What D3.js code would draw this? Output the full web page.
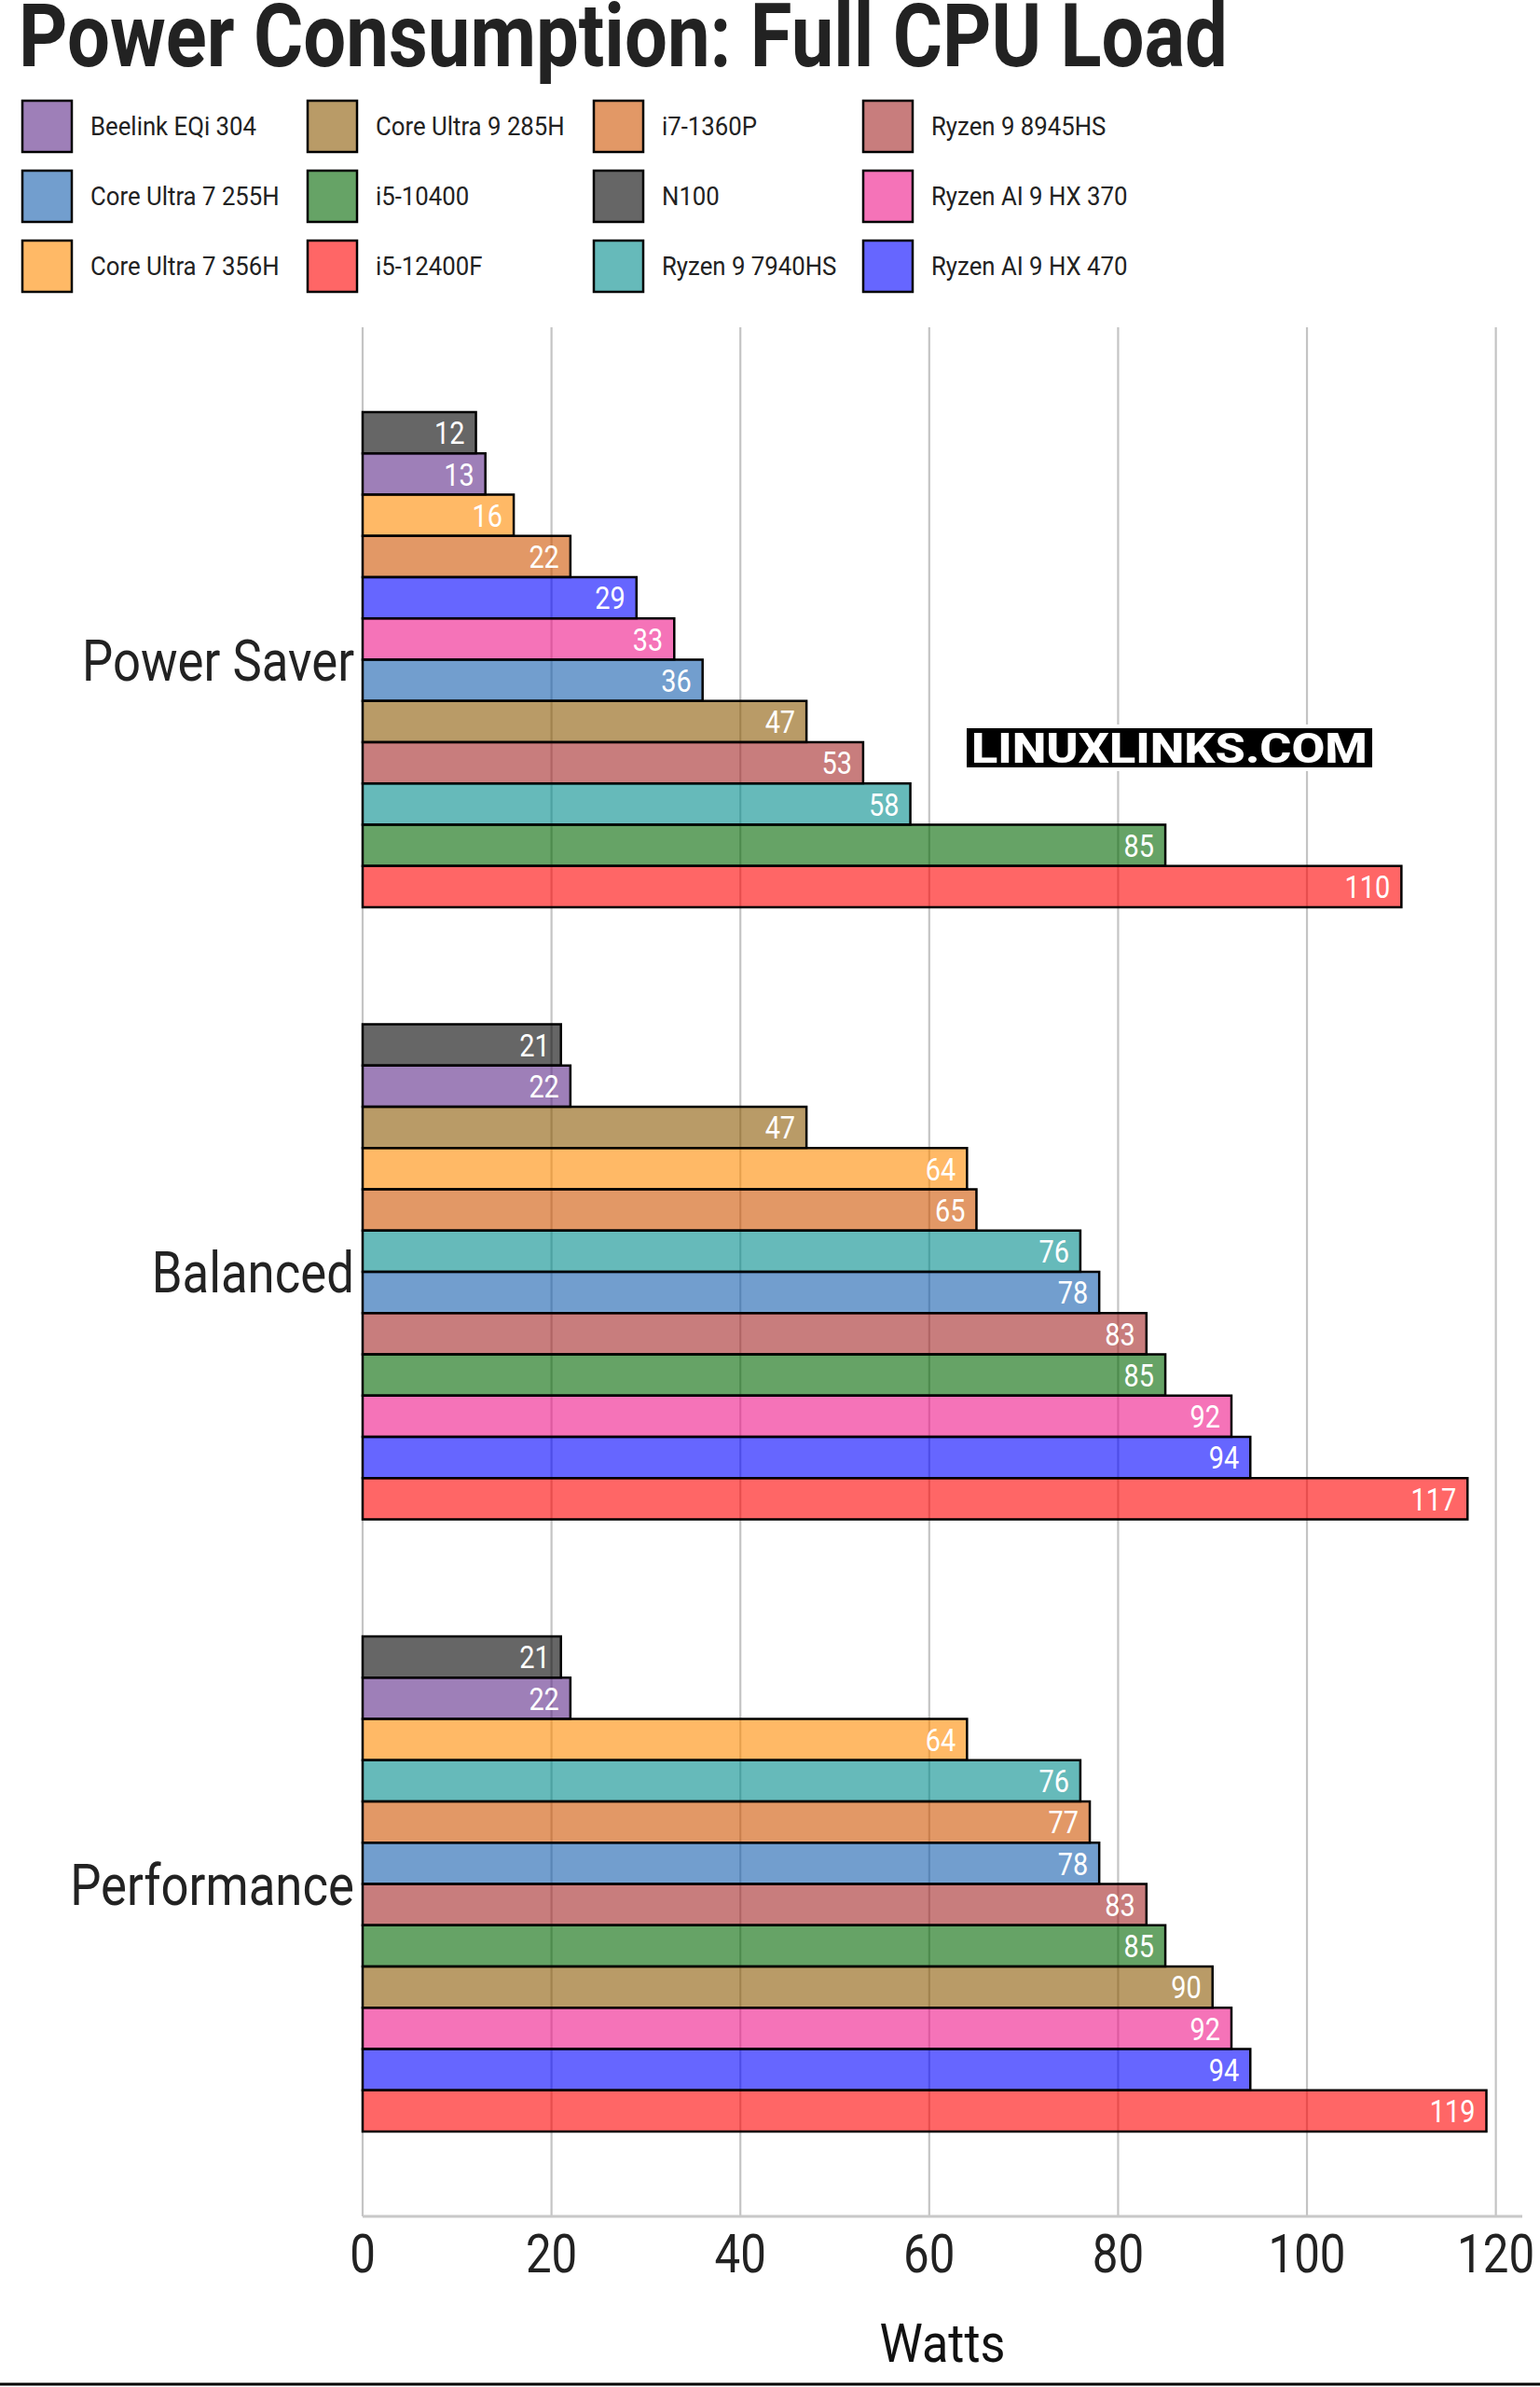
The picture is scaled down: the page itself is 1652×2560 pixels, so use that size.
<!DOCTYPE html>
<html>
<head>
<meta charset="utf-8">
<script src="https://cdn.jsdelivr.net/npm/d3@7"></script>
<style>
  body { margin: 0; background: #fff; }
  svg text { font-family: Roboto, "Noto Sans", sans-serif; }
</style>
</head>
<body>
<div id="chart"></div>
<script>
// legend order (alphabetical)
var cpus = ["Beelink EQi 304", "Core Ultra 7 255H", "Core Ultra 7 356H", "Core Ultra 9 285H",
  "i5-10400", "i5-12400F", "i7-1360P", "N100", "Ryzen 9 7940HS", "Ryzen 9 8945HS",
  "Ryzen AI 9 HX 370", "Ryzen AI 9 HX 470"];
var colors = ["#5d2a89", "#145dad", "#ff8a00", "#8a5802", "#006600", "#ff0000",
  "#cf5300", "#000000", "#008c8c", "#a32626", "#ee1689", "#0000ff"];
var modes = ["Power Saver", "Balanced", "Performance"];
var powerSaver = [13, 36, 16, 47, 85, 110, 22, 12, 58, 53, 33, 29];
var balanced = [22, 78, 64, 47, 85, 117, 65, 21, 76, 83, 92, 94];
var performance = [22, 78, 64, 90, 85, 119, 77, 21, 76, 83, 92, 94];
var xTicks = [0, 20, 40, 60, 80, 100, 120];

var width = 1652;
var height = 2560;
var condense = 0.85;

var svg = d3.select("#chart").append("svg").attr("width", width).attr("height", height);

// squeeze Roboto into a condensed look
function squeeze(sel, k) {
  sel.each(function () {
    var len = this.getComputedTextLength();
    d3.select(this).attr("textLength", len * (k || condense)).attr("lengthAdjust", "spacingAndGlyphs");
  });
}

var panel = { left: 389, right: 1633, top: 351, bottom: 2377 };

var x = d3.scaleLinear().domain([0, 122.8]).range([panel.left, panel.right]);
var y = d3.scalePoint().domain(modes).range([panel.top, panel.bottom]).padding(0.543);
var groupHeight = 531;

var color = d3.scaleOrdinal().domain(cpus).range(colors);

// title
svg.append("text")
  .attr("x", 20)
  .attr("y", 71)
  .attr("font-size", 95)
  .attr("font-weight", 700)
  .attr("fill", "#222")
  .text("Power Consumption: Full CPU Load")
  .attr("textLength", 1297)
  .attr("lengthAdjust", "spacingAndGlyphs");

// legend, column major, 3 rows
var legendCols = [24, 330, 637, 926];
var legend = svg.append("g");
cpus.forEach(function (c, i) {
  var col = Math.floor(i / 3);
  var row = i % 3;
  var lx = legendCols[col];
  var ly = 108 + row * 75;
  legend.append("rect")
    .attr("x", lx)
    .attr("y", ly)
    .attr("width", 53)
    .attr("height", 55)
    .attr("fill", color(c))
    .attr("fill-opacity", 0.6)
    .attr("stroke", "#000")
    .attr("stroke-width", 2.5);
  legend.append("text")
    .attr("x", lx + 73)
    .attr("y", ly + 27.5)
    .attr("dy", "0.35em")
    .attr("font-size", 28)
    .attr("fill", "#222")
    .text(c)
    .call(squeeze, 0.92);
});

// grid
var grid = svg.append("g");
grid.selectAll("line")
  .data(xTicks)
  .enter()
  .append("line")
  .attr("x1", function (d) { return x(d); })
  .attr("x2", function (d) { return x(d); })
  .attr("y1", panel.top)
  .attr("y2", panel.bottom)
  .attr("stroke", "#c4c4c4")
  .attr("stroke-width", 2.2);

svg.append("line")
  .attr("x1", panel.left)
  .attr("x2", panel.right)
  .attr("y1", panel.bottom)
  .attr("y2", panel.bottom)
  .attr("stroke", "#c8c8c8")
  .attr("stroke-width", 3);

// bars
var modeValues = [powerSaver, balanced, performance];
var bars = svg.append("g");
modes.forEach(function (m, mi) {
  var rows = cpus.map(function (c, i) {
    return { cpu: c, value: modeValues[mi][i] };
  });
  rows.sort(function (a, b) { return a.value - b.value; });

  var band = d3.scaleBand()
    .domain(rows.map(function (r) { return r.cpu; }))
    .range([y(m) - groupHeight / 2, y(m) + groupHeight / 2]);

  var g = bars.append("g");

  g.selectAll("rect")
    .data(rows)
    .enter()
    .append("rect")
    .attr("x", x(0))
    .attr("y", function (r) { return band(r.cpu); })
    .attr("width", function (r) { return x(r.value) - x(0); })
    .attr("height", band.bandwidth())
    .attr("fill", function (r) { return color(r.cpu); })
    .attr("fill-opacity", 0.6)
    .attr("stroke", "#000")
    .attr("stroke-width", 2.5);

  g.selectAll("text")
    .data(rows)
    .enter()
    .append("text")
    .attr("x", function (r) { return x(r.value) - 12; })
    .attr("y", function (r) { return band(r.cpu) + band.bandwidth() / 2; })
    .attr("dy", "0.36em")
    .attr("text-anchor", "end")
    .attr("font-size", 34)
    .attr("fill", "#fff")
    .text(function (r) { return r.value; })
    .call(squeeze);

  svg.append("text")
    .attr("x", panel.left - 9)
    .attr("y", y(m))
    .attr("dy", "0.36em")
    .attr("text-anchor", "end")
    .attr("font-size", 62)
    .attr("fill", "#222")
    .text(m)
    .call(squeeze);
});

// x tick labels
svg.append("g")
  .selectAll("text")
  .data(xTicks)
  .enter()
  .append("text")
  .attr("x", function (d) { return x(d); })
  .attr("y", 2437)
  .attr("text-anchor", "middle")
  .attr("font-size", 58)
  .attr("fill", "#222")
  .text(function (d) { return d; })
  .call(squeeze);

svg.append("text")
  .attr("x", (panel.left + panel.right) / 2)
  .attr("y", 2533)
  .attr("text-anchor", "middle")
  .attr("font-size", 58)
  .attr("fill", "#111")
  .text("Watts")
  .call(squeeze, 0.9);

// watermark
var wm = svg.append("g");
wm.append("rect")
  .attr("x", 1033)
  .attr("y", 777)
  .attr("width", 443)
  .attr("height", 50)
  .attr("fill", "#fff");
wm.append("rect")
  .attr("x", 1037)
  .attr("y", 781)
  .attr("width", 435)
  .attr("height", 42)
  .attr("fill", "#000");
wm.append("text")
  .attr("x", 1254.5)
  .attr("y", 818)
  .attr("text-anchor", "middle")
  .attr("font-family", "'Open Sans', sans-serif")
  .attr("font-weight", 800)
  .attr("font-size", 45)
  .attr("fill", "#fff")
  .text("LINUXLINKS.COM")
  .attr("textLength", 425)
  .attr("lengthAdjust", "spacingAndGlyphs");

// bottom rule
svg.append("line")
  .attr("x1", 0)
  .attr("x2", width)
  .attr("y1", 2557)
  .attr("y2", 2557)
  .attr("stroke", "#000")
  .attr("stroke-width", 3);
</script>
</body>
</html>
